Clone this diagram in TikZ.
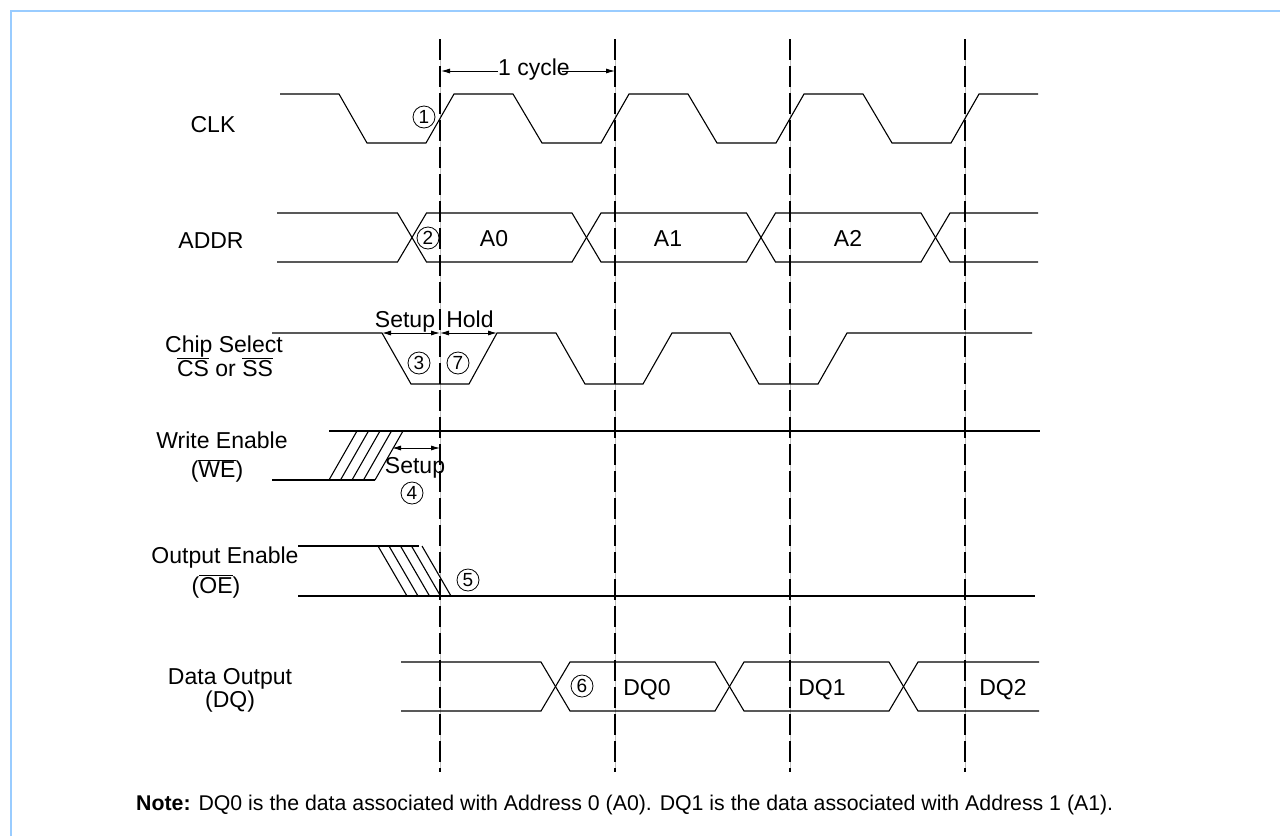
\documentclass[tikz,border=0pt]{standalone}
\usepackage{fontspec}
\setmainfont{Liberation Sans}
\usetikzlibrary{arrows.meta}
\definecolor{framecol}{RGB}{153,204,255}
\newcommand{\ovl}[1]{$\overline{\mbox{#1}}$}
\begin{document}
\begin{tikzpicture}[x=1pt,y=-1pt,
  sig/.style={line width=1.1pt, line join=miter},
  lbl/.style={font=\fontsize{23}{26}\selectfont, inner sep=0pt, anchor=base},
  notestyle/.style={font=\fontsize{21.3}{25}\selectfont, inner sep=0pt, anchor=base west},
  num/.style={circle, draw, line width=0.8pt, minimum size=22pt, inner sep=0pt, font=\fontsize{19}{19}\selectfont},
  guide/.style={line width=1.1pt, dash pattern=on 21pt off 6pt},
  guidebg/.style={line width=0.6pt, black!25},
  dim/.style={line width=0.9pt, {Latex[length=9pt,width=5pt]}-{Latex[length=9pt,width=5pt]}},
]
\useasboundingbox (0,0) rectangle (1280,836);
\fill[white] (0,0) rectangle (1280,836);
\draw[line width=2pt, framecol] (11,836) -- (11,11) -- (1280,11);

% guide lines
\foreach \i/\x in {0/440,1/615,2/790,3/965} {
  \coordinate (gt\i) at (\x,39);
  \coordinate (gb\i) at (\x,772);
  \draw[guidebg] (gt\i) -- (gb\i);
  \draw[guide] (gt\i) -- (gb\i);
}

% CLK
\draw[sig] (280,94) -- (339,94) -- (367,143) -- (426,143) -- (454,94) -- (513,94) -- (542,143) -- (601,143) -- (629,94) -- (688,94) -- (717,143) -- (776,143) -- (804,94) -- (863,94) -- (892,143) -- (951,143) -- (979,94) -- (1038,94);
\node[lbl] (clk) at (213,132) {CLK};
\node[num] (n1) at (424,117) {1};
\coordinate (cyl) at (441,71);
\coordinate (cyr) at (615,71);
\node[lbl] (cyc) at (534,75) {1 cycle};
\draw[line width=0.9pt, -{Latex[length=9pt,width=5pt]}] (cyc.west |- cyl) -- (cyl);
\draw[line width=0.9pt, -{Latex[length=9pt,width=5pt]}] ([xshift=-8pt]cyc.east |- cyr) -- (cyr);

% ADDR
\draw[sig] (277,213) -- (397.5,213) -- (426.5,262) -- (572,262) -- (601,213) -- (746.5,213) -- (775.5,262) -- (921,262) -- (950,213) -- (1038,213);
\draw[sig] (277,262) -- (397.5,262) -- (426.5,213) -- (572,213) -- (601,262) -- (746.5,262) -- (775.5,213) -- (921,213) -- (950,262) -- (1038,262);
\node[lbl] (addr) at (211,248) {ADDR};
\node[num] (n2) at (428,238) {2};
\node[lbl] (a0) at (494,246) {A0};
\node[lbl] (a1) at (668,246) {A1};
\node[lbl] (a2) at (848,246) {A2};

% Chip select
\draw[sig] (272,333) -- (382,333) -- (411,384) -- (469,384) -- (497,333) -- (556,333) -- (585,384) -- (643,384) -- (672,333) -- (730,333) -- (759,384) -- (818,384) -- (847,333) -- (1032,333);
\node[lbl] (cs1) at (224,352) {Chip Select};
\node[lbl] (cs2) at (225,376) {\ovl{CS} or \ovl{SS}};
\coordinate (sua) at (382,333);
\coordinate (sum) at (440,333);
\coordinate (hob) at (497,333);
\draw[dim] (sua) -- (sum);
\draw[dim] (sum) -- (hob);
\node[lbl] (setup1) at (405,327) {Setup};
\node[lbl] (hold) at (470,327) {Hold};
\node[num] (n3) at (419,363) {3};
\node[num] (n7) at (458,363) {7};

% Write enable
\draw[sig] (329,431) -- (1040,431);
\draw[sig] (272,480) -- (375,480);
\foreach \b in {329,340.5,352,363.5,375} {
  \draw[sig] (\b,480) -- (\b+28,431);
}
\node[lbl] (we1) at (222,448) {Write Enable};
\node[lbl] (we2) at (217,477) {(\ovl{WE})};
\coordinate (wsa) at (392,448);
\coordinate (wsb) at (440,448);
\draw[dim] (wsa) -- (wsb);
\node[lbl] (setup2) at (415,473) {Setup};
\node[num] (n4) at (412,493) {4};

% Output enable
\draw[sig] (298,546) -- (419,546);
\draw[sig] (298,596) -- (1035,596);
\foreach \t in {378,389,400.5,411.5,422} {
  \draw[sig] (\t,546) -- (\t+29,596);
}
\node[lbl] (oe1) at (225,563) {Output Enable};
\node[lbl] (oe2) at (216,593) {(\ovl{OE})};
\node[num] (n5) at (468,580) {5};

% Data output
\draw[sig] (401,662) -- (541,662) -- (570,711) -- (715,711) -- (744,662) -- (889,662) -- (918,711) -- (1039,711);
\draw[sig] (401,711) -- (541,711) -- (570,662) -- (715,662) -- (744,711) -- (889,711) -- (918,662) -- (1039,662);
\node[lbl] (dq1) at (230,684) {Data Output};
\node[lbl] (dq2) at (230,707) {(DQ)};
\node[num] (n6) at (582,686) {6};
\node[lbl] (d0) at (647,695) {DQ0};
\node[lbl] (d1) at (822,695) {DQ1};
\node[lbl] (d2) at (1003,695) {DQ2};

% note
\node[notestyle] (note) at (136,810) {\textbf{Note:} DQ0 is the data associated with Address 0 (A0). DQ1 is the data associated with Address 1 (A1).};
\end{tikzpicture}
\end{document}
